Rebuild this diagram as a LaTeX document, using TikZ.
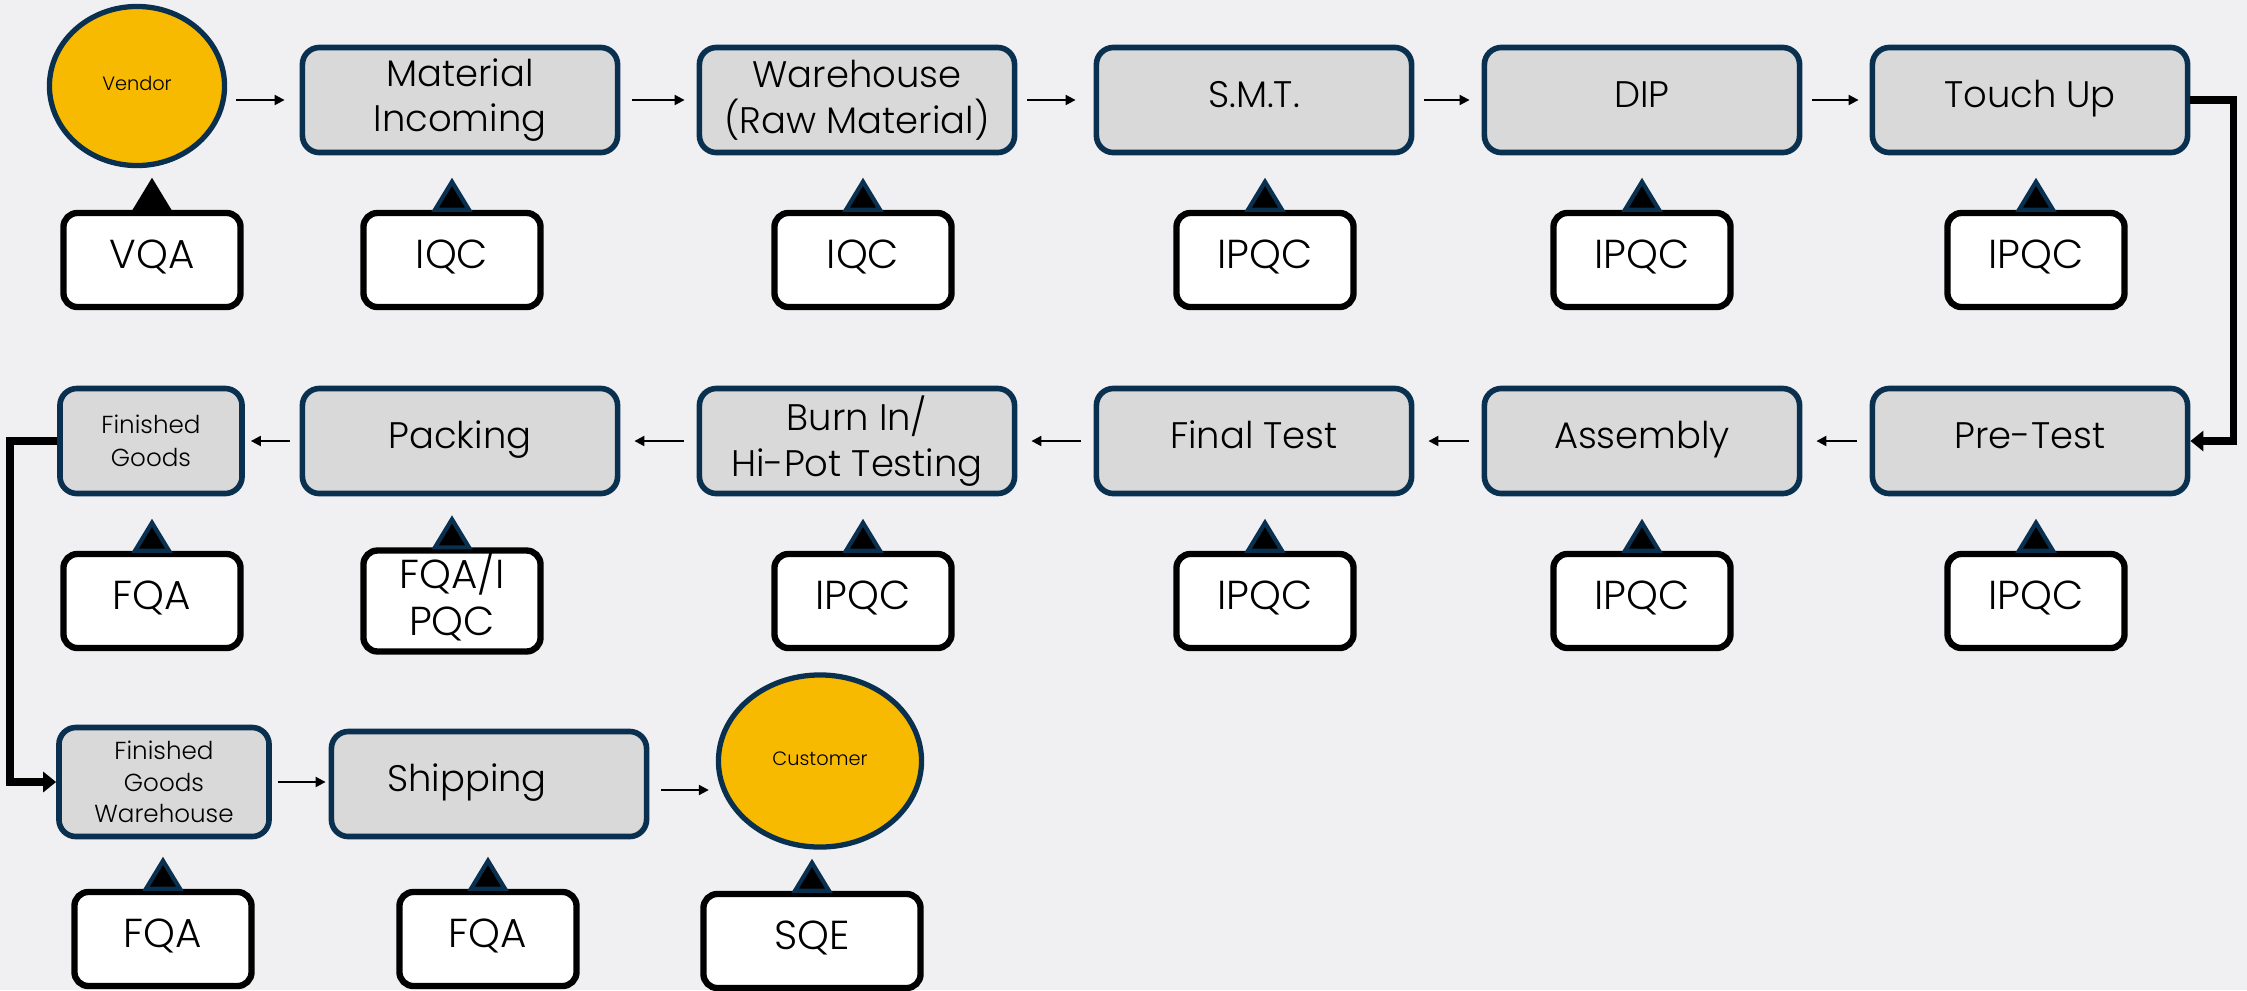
\documentclass[tikz,border=0pt]{standalone}
\usepackage{fontspec}
\setmainfont{Poppins Light}
\usetikzlibrary{arrows.meta,shapes.geometric,calc}
\definecolor{bgc}{HTML}{F0F0F3}
\definecolor{navy}{HTML}{0A3050}
\definecolor{boxfill}{HTML}{D9D9D9}
\definecolor{gold}{HTML}{F8BA00}
\newcommand\qtri[2]{\filldraw[draw=#2, fill=black, line width=1.2pt, line join=miter] ($(#1.north)+(-17,0)$) -- ($(#1.north)+(0,-28)$) -- ($(#1.north)+(17,0)$) -- cycle;}
\begin{document}
\begin{tikzpicture}[x=0.01cm,y=-0.01cm,
 proc/.style={draw=navy, fill=boxfill, line width=1.6pt, rounded corners=0.17cm, minimum width=3.15cm, minimum height=1.05cm, align=center, font=\fontsize{10.5}{13}\selectfont, inner sep=0pt},
 one/.style={text height=0.75em, text depth=0.32em},
 qc/.style={draw=black, fill=white, line width=1.8pt, rounded corners=0.14cm, minimum width=1.77cm, minimum height=0.94cm, align=center, font=\fontsize{11.5}{13.4}\selectfont, inner sep=0pt},
 qone/.style={text height=0.75em, text depth=0.26em},
 party/.style={ellipse, draw=navy, fill=gold, line width=1.5pt, inner sep=0pt, font=\fontsize{5.5}{7}\selectfont, text height=0.75em, text depth=0.5em},
 flow/.style={-{Triangle[length=0.1cm,width=0.1cm]}, line width=0.6pt},
 loopline/.style={-{Triangle[length=0.13cm,width=0.2cm]}, line width=2.2pt},
]
\fill[bgc] (0,0) rectangle (2247,990);
\useasboundingbox (0,0) rectangle (2247,990);
% row 1
\node[party, minimum width=1.75cm, minimum height=1.59cm] (vendor) at (137,86) {Vendor};
\node[proc] (mi) at (460,100) {Material\\Incoming};
\node[proc] (wh) at (857,100) {Warehouse\\(Raw Material)};
\node[proc, one] (smt) at (1254,100) {S.M.T.};
\node[proc, one] (dip) at (1642,100) {DIP};
\node[proc, one] (tu) at (2030,100) {Touch Up};
\node[qc, qone] (q1) at (152,260) {VQA};
\node[qc, qone] (q2) at (452,260) {IQC};
\node[qc, qone] (q3) at (863,260) {IQC};
\node[qc, qone] (q4) at (1265,260) {IPQC};
\node[qc, qone] (q5) at (1642,260) {IPQC};
\node[qc, qone] (q6) at (2036,260) {IPQC};
% row 2
\node[proc, minimum width=1.82cm, font=\fontsize{7}{9.4}\selectfont] (fg) at (151,441) {Finished\\Goods};
\node[proc, one] (pk) at (460,441) {Packing};
\node[proc] (bi) at (857,441) {Burn In/\\Hi-Pot Testing};
\node[proc, one] (ft) at (1254,441) {Final Test};
\node[proc, one] (as) at (1642,441) {Assembly};
\node[proc, one] (pt) at (2030,441) {Pre-Test};
\node[qc, qone] (r1) at (152,601) {FQA};
\node[qc, text depth=0.45em] (r2) at (452,601) {FQA/I\\PQC};
\node[qc, qone] (r3) at (863,601) {IPQC};
\node[qc, qone] (r4) at (1265,601) {IPQC};
\node[qc, qone] (r5) at (1642,601) {IPQC};
\node[qc, qone] (r6) at (2036,601) {IPQC};
% row 3
\node[proc, minimum width=2.1cm, minimum height=1.09cm, font=\fontsize{7}{9}\selectfont] (fgw) at (164,782) {Finished\\Goods\\Warehouse};
\node[proc, one] (ship) at (489,784) {Shipping\hspace*{0.44cm}};
\node[party, minimum width=2.03cm, minimum height=1.72cm] (cust) at (820,761) {Customer};
\node[qc, qone] (s1) at (163,939) {FQA};
\node[qc, qone] (s2) at (488,939) {FQA};
\node[qc, qone, minimum width=2.17cm] (s3) at (812,941) {SQE};
% triangles
\qtri{q1}{black}
\foreach \n in {q2,q3,q4,q5,q6,r1,r2,r3,r4,r5,r6,s1,s2,s3}{\qtri{\n}{navy}}
% flow arrows row 1
\draw[flow, shorten <=0.09cm, shorten >=0.15cm] (vendor.east |- mi.west) -- (mi.west);
\draw[flow, shorten <=0.12cm, shorten >=0.12cm] (mi.east) -- (wh.west);
\draw[flow, shorten <=0.1cm, shorten >=0.18cm] (wh.east) -- (smt.west);
\draw[flow, shorten <=0.1cm, shorten >=0.12cm] (smt.east) -- (dip.west);
\draw[flow, shorten <=0.1cm, shorten >=0.11cm] (dip.east) -- (tu.west);
\draw[loopline] (tu.east) -- ++(43,0) |- (pt.east);
% row 2
\draw[flow, shorten <=0.13cm, shorten >=0.14cm] (pt.west) -- (as.east);
\draw[flow, shorten <=0.13cm, shorten >=0.14cm] (as.west) -- (ft.east);
\draw[flow, shorten <=0.13cm, shorten >=0.14cm] (ft.west) -- (bi.east);
\draw[flow, shorten <=0.13cm, shorten >=0.14cm] (bi.west) -- (pk.east);
\draw[flow, shorten <=0.1cm, shorten >=0.06cm] (pk.west) -- (fg.east);
\draw[loopline] (fg.west) -- ++(-47,0) |- (fgw.west);
% row 3
\draw[flow, shorten <=0.06cm, shorten >=0.03cm] (fgw.east) -- (fgw.east -| ship.west);
\draw[flow] ($(ship.east)+(12,6)$) -- ($(cust.west |- ship.east)+(-7,6)$);
\end{tikzpicture}
\end{document}
